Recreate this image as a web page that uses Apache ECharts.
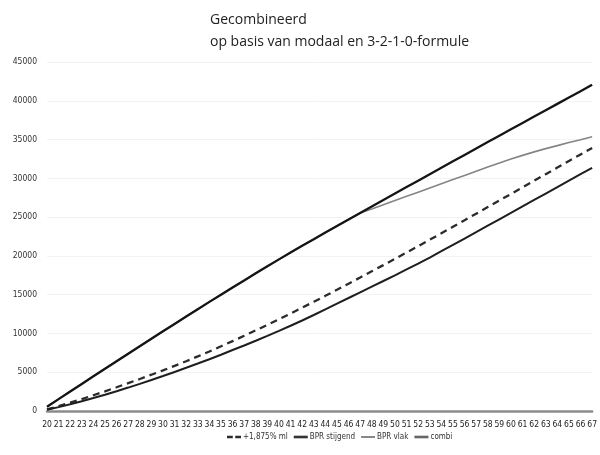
<!DOCTYPE html>
<html>
<head>
<meta charset="utf-8">
<title>Gecombineerd</title>
<script src="https://cdn.jsdelivr.net/npm/echarts@6/dist/echarts.min.js"></script>
<style>
  html, body { margin: 0; padding: 0; background: #ffffff; }
  #chart { width: 600px; height: 455px; }
</style>
</head>
<body>
<div id="chart"></div>
<script>
// Leeftijden 20 t/m 67
const ages = [20,21,22,23,24,25,26,27,28,29,30,31,32,33,34,35,36,37,38,39,40,41,42,43,
              44,45,46,47,48,49,50,51,52,53,54,55,56,57,58,59,60,61,62,63,64,65,66,67];

// Opgebouwd pensioen per leeftijd (euro per jaar)
const ml1875 = [200,620,1070,1540,2030,2540,3060,3590,4130,4680,5240,5820,6420,7040,7680,8340,
                9010,9700,10400,11110,11830,12570,13320,14080,14850,15630,16420,17210,18010,18810,
                19620,20430,21250,22080,22910,23750,24590,25440,26290,27140,27990,28840,29690,
                30540,31390,32240,33080,33920];

const bprStijgend = [150,500,870,1260,1670,2100,2550,3020,3500,4000,4510,5030,5570,6120,6680,7250,
                     7860,8450,9060,9690,10330,10990,11670,12380,13110,13840,14570,15300,16030,16760,
                     17500,18250,19010,19790,20600,21420,22240,23060,23890,24720,25550,26380,27210,
                     28040,28870,29700,30530,31360];

const bprVlak = [550,1530,2510,3490,4470,5450,6420,7390,8360,9320,10280,11230,12180,13130,14070,15000,
                 15920,16840,17750,18650,19550,20440,21320,22150,23000,23850,24690,25530,26370,27210,
                 28040,28870,29700,30530,31360,32190,33020,33850,34680,35500,36320,37140,37960,
                 38780,39600,40420,41240,42080];

const combi = [550,1530,2510,3490,4470,5450,6420,7390,8360,9320,10280,11230,12180,13130,14070,15000,
               15920,16840,17750,18650,19550,20440,21320,22150,23000,23850,24690,25530,26060,26600,
               27140,27680,28220,28760,29300,29840,30380,30920,31450,31970,32480,32960,33410,
               33830,34220,34620,34980,35350];

const yTicks = { min: 0, max: 45000, step: 5000 };

const seriesNames = ['+1,875% ml', 'BPR stijgend', 'BPR vlak', 'combi'];

const chart = echarts.init(document.getElementById('chart'), null, { renderer: 'canvas' });

const labelFont = 'DejaVu Sans Condensed, Liberation Sans, sans-serif';

// legend keys: short line pieces, the first one a dash
const dashIcon = 'path://M0,0h7v3h-7z M10,0h7v3h-7z';
const thickIcon = 'path://M0,0h16v3h-16z';
const thinIcon = 'path://M0,1h16v1.6h-16z';

chart.setOption({
  animation: false,
  backgroundColor: '#ffffff',
  title: {
    text: 'Gecombineerd\nop basis van modaal en 3-2-1-0-formule',
    left: 205,
    top: 4,
    textStyle: {
      fontFamily: 'Open Sans, Noto Sans, sans-serif',
      fontSize: 14,
      fontWeight: 'normal',
      color: '#222222',
      lineHeight: 22
    }
  },
  grid: { left: 47, right: 6, top: 62, bottom: 44, containLabel: false },
  legend: {
    data: [
      { name: seriesNames[0], icon: dashIcon, itemStyle: { color: '#2b2b2b' } },
      { name: seriesNames[1], icon: thickIcon, itemStyle: { color: '#333333' } },
      { name: seriesNames[2], icon: thinIcon, itemStyle: { color: '#555555' } },
      { name: seriesNames[3], icon: thickIcon, itemStyle: { color: '#666666' } }
    ],
    bottom: 9,
    left: 222,
    itemWidth: 14,
    itemHeight: 3,
    itemGap: 6,
    textStyle: { fontFamily: labelFont, fontSize: 8, color: '#333333', padding: [0, 0, 0, -3] }
  },
  xAxis: {
    type: 'category',
    data: ages,
    boundaryGap: false,
    axisLine: { show: true, lineStyle: { color: '#8c8c8c', width: 2.5 } },
    axisTick: { show: false },
    axisLabel: {
      interval: 0,
      margin: 9,
      fontFamily: labelFont,
      fontSize: 8.5,
      color: '#222222'
    },
    splitLine: { show: false }
  },
  yAxis: {
    type: 'value',
    min: yTicks.min,
    max: yTicks.max,
    interval: yTicks.step,
    axisLine: { show: false },
    axisTick: { show: false },
    axisLabel: {
      margin: 10,
      fontFamily: labelFont,
      fontSize: 8.5,
      color: '#333333',
      formatter: (v) => String(v)
    },
    splitLine: { show: true, lineStyle: { color: '#f3f3f3', width: 1 } }
  },
  series: [
    {
      name: seriesNames[0],
      type: 'line',
      data: ml1875,
      symbol: 'none',
      z: 3,
      lineStyle: { color: '#2b2b2b', width: 2.3, type: [7, 5] },
      itemStyle: { color: '#2b2b2b' }
    },
    {
      name: seriesNames[1],
      type: 'line',
      data: bprStijgend,
      symbol: 'none',
      z: 3,
      lineStyle: { color: '#1e1e1e', width: 2 },
      itemStyle: { color: '#1e1e1e' }
    },
    {
      name: seriesNames[3],
      type: 'line',
      data: combi,
      symbol: 'none',
      z: 2,
      lineStyle: { color: '#858585', width: 1.6 },
      itemStyle: { color: '#858585' }
    },
    {
      name: seriesNames[2],
      type: 'line',
      data: bprVlak,
      symbol: 'none',
      z: 4,
      lineStyle: { color: '#151515', width: 2.3 },
      itemStyle: { color: '#151515' }
    }
  ]
});
</script>
</body>
</html>
